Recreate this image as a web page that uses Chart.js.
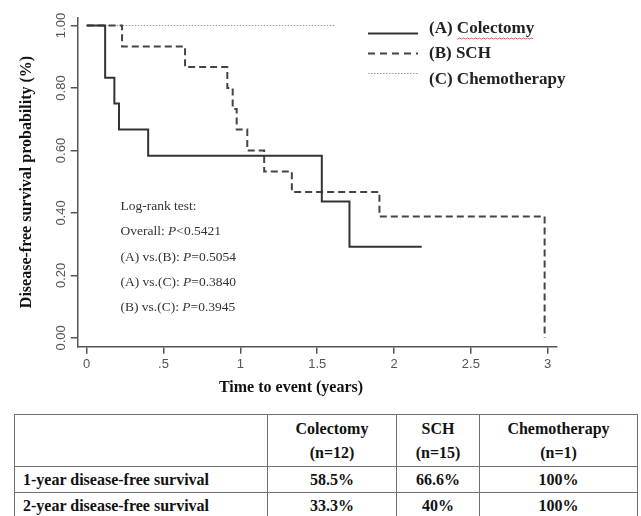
<!DOCTYPE html>
<html>
<head>
<meta charset="utf-8">
<script src="https://cdn.jsdelivr.net/npm/chart.js@4.4.0/dist/chart.umd.min.js"></script>
<style>
body { margin: 0; background: #fff; width: 641px; height: 516px; overflow: hidden; position: relative; }
#km { position: absolute; left: 0; top: 0; }
#summary { position: absolute; left: 14px; top: 414px; border-collapse: collapse; table-layout: fixed;
  font-family: "Liberation Serif", "Times New Roman", serif; font-weight: bold; font-size: 16px; color: #111; }
#summary td { border: 1.5px solid #707070; text-align: center; padding: 0; line-height: 24px; }
#summary td.lab { text-align: left; padding-left: 8px; }
</style>
</head>
<body>
<canvas id="km" width="641" height="405"></canvas>
<table id="summary"></table>
<script>
const xTicks = [0, 0.5, 1, 1.5, 2, 2.5, 3];
const xTickLabels = ['0', '.5', '1', '1.5', '2', '2.5', '3'];
const yTicks = [0, 0.2, 0.4, 0.6, 0.8, 1];
const yTickLabels = ['0.00', '0.20', '0.40', '0.60', '0.80', '1.00'];

const colectomyTime = [0, 0.12, 0.18, 0.21, 0.40, 1.53, 1.71, 2.18];
const colectomySurv = [1, 0.833, 0.75, 0.667, 0.583, 0.437, 0.292, 0.292];
const schTime = [0, 0.23, 0.64, 0.915, 0.95, 0.976, 1.045, 1.155, 1.335, 1.905, 2.98];
const schSurv = [1, 0.933, 0.867, 0.8, 0.733, 0.667, 0.6, 0.533, 0.467, 0.389, 0];
const chemoTime = [0, 1.62];
const chemoSurv = [1, 1];

const legendLabels = ['(A) Colectomy', '(B) SCH', '(C) Chemotherapy'];
const logRank = [
    ['Log-rank test:'],
    ['Overall: ', 'P', '<0.5421'],
    ['(A) vs.(B): ', 'P', '=0.5054'],
    ['(A) vs.(C): ', 'P', '=0.3840'],
    ['(B) vs.(C): ', 'P', '=0.3945']
];

const groups = ['Colectomy', 'SCH', 'Chemotherapy'];
const groupN = ['(n=12)', '(n=15)', '(n=1)'];
const rowLabels = ['1-year disease-free survival', '2-year disease-free survival'];
const oneYear = ['58.5%', '66.6%', '100%'];
const twoYear = ['33.3%', '40%', '100%'];

const serif = '"Liberation Serif", "Times New Roman", serif';
const sans = '"Liberation Sans", Arial, sans-serif';

const toPoints = (ts, ss) => ts.map((t, i) => ({ x: t, y: ss[i] }));

const styles = [
    { color: '#333', width: 2, dash: [] },
    { color: '#444', width: 2, dash: [7, 4] },
    { color: '#999', width: 1.2, dash: [1.5, 1.5] }
];

const overlay = {
    id: 'overlay',
    afterDraw(chart) {
        const ctx = chart.ctx;
        const ys = chart.scales.y;
        ctx.save();

        // y tick labels, rotated like the original
        ctx.fillStyle = '#555';
        ctx.font = '13px ' + sans;
        ctx.textAlign = 'center';
        ctx.textBaseline = 'middle';
        yTicks.forEach((v, i) => {
            ctx.save();
            ctx.translate(61.5, ys.getPixelForValue(v));
            ctx.rotate(-Math.PI / 2);
            ctx.fillText(yTickLabels[i], 0, 0);
            ctx.restore();
        });

        // axis titles
        ctx.fillStyle = '#111';
        ctx.font = 'bold 16px ' + serif;
        ctx.save();
        ctx.translate(27, 182);
        ctx.rotate(-Math.PI / 2);
        ctx.fillText('Disease-free survival probability (%)', 0, 0);
        ctx.restore();
        ctx.fillText('Time to event (years)', 291, 388);

        // legend
        const lineY = [33.5, 53.5, 73.5];
        const textY = [28.5, 54, 80];
        ctx.textAlign = 'left';
        ctx.font = 'bold 17px ' + serif;
        legendLabels.forEach((lab, i) => {
            const st = styles[i];
            ctx.beginPath();
            ctx.setLineDash(i === 1 ? [7, 5] : st.dash);
            ctx.strokeStyle = st.color;
            ctx.lineWidth = st.width;
            ctx.moveTo(368, lineY[i]);
            ctx.lineTo(418, lineY[i]);
            ctx.stroke();
            ctx.setLineDash([]);
            ctx.fillStyle = '#222';
            ctx.fillText(lab, 429, textY[i]);
        });
        ctx.beginPath();
        ctx.strokeStyle = '#d44';
        ctx.lineWidth = 0.8;
        for (let x = 457; x <= 533; x += 1) {
            const y = 38 + ((x % 4) < 2 ? (x % 2) : 1 - (x % 2));
            if (x === 457) ctx.moveTo(x, y); else ctx.lineTo(x, y);
        }
        ctx.stroke();

        // log-rank annotation
        ctx.fillStyle = '#333';
        logRank.forEach((parts, i) => {
            let x = 120.5;
            const y = 206.7 + i * 25.2;
            parts.forEach((p, j) => {
                ctx.font = (j === 1 ? 'italic ' : '') + '13.5px ' + serif;
                ctx.fillText(p, x, y);
                x += ctx.measureText(p).width;
            });
        });
        ctx.restore();
    }
};

new Chart(document.getElementById('km'), {
    type: 'line',
    data: {
        datasets: [
            { data: toPoints(colectomyTime, colectomySurv) },
            { data: toPoints(schTime, schSurv) },
            { data: toPoints(chemoTime, chemoSurv) }
        ].map((d, i) => Object.assign(d, {
            stepped: 'before',
            borderColor: styles[i].color,
            borderWidth: styles[i].width,
            borderDash: styles[i].dash,
            pointRadius: 0,
            fill: false
        }))
    },
    options: {
        responsive: false,
        animation: false,
        events: [],
        layout: { padding: { left: 0, top: 18, right: 84.3, bottom: 0 } },
        plugins: { legend: { display: false }, tooltip: { enabled: false } },
        scales: {
            x: {
                type: 'linear',
                min: -0.0586,
                max: 3.0586,
                afterBuildTicks: s => { s.ticks = xTicks.map(v => ({ value: v })); },
                afterFit: s => { s.height = 58.3; },
                ticks: {
                    callback: (v, i) => xTickLabels[i],
                    color: '#555',
                    font: { family: sans, size: 13 },
                    padding: 3,
                    maxRotation: 0,
                    autoSkip: false
                },
                grid: { drawOnChartArea: false, drawTicks: true, tickLength: 7, color: '#555', lineWidth: 1.5 },
                border: { color: '#555', width: 1.5 }
            },
            y: {
                type: 'linear',
                min: -0.028,
                max: 1.024,
                afterBuildTicks: s => { s.ticks = yTicks.map(v => ({ value: v })); },
                afterFit: s => { s.width = 77.7; },
                ticks: { display: false },
                grid: { drawOnChartArea: false, drawTicks: true, tickLength: 7, color: '#555', lineWidth: 1.5 },
                border: { color: '#555', width: 1.5 }
            }
        }
    },
    plugins: [overlay]
});

const table = document.getElementById('summary');
const colWidths = [253, 129, 83, 158];
let html = '<colgroup>' + colWidths.map(w => `<col style="width:${w}px">`).join('') + '</colgroup>';
html += '<tr style="height:52px"><td></td>' + groups.map((g, i) => `<td>${g}<br>${groupN[i]}</td>`).join('') + '</tr>';
[oneYear, twoYear].forEach((row, r) => {
    html += `<tr style="height:26px"><td class="lab">${rowLabels[r]}</td>` + row.map(v => `<td>${v}</td>`).join('') + '</tr>';
});
table.innerHTML = html;
table.style.width = colWidths.reduce((a, b) => a + b, 0) + 'px';
</script>
</body>
</html>
